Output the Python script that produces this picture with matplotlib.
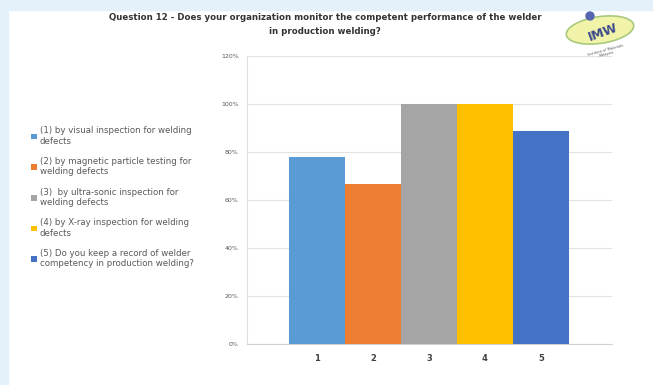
import matplotlib.pyplot as plt
from matplotlib.patches import Ellipse, Rectangle
from matplotlib.ticker import PercentFormatter

categories = ['1', '2', '3', '4', '5']
shares = [0.778, 0.667, 1.0, 1.0, 0.889]
labels = ['(1) by visual inspection for welding\ndefects',
          '(2) by magnetic particle testing for\nwelding defects',
          '(3)  by ultra-sonic inspection for\nwelding defects',
          '(4) by X-ray inspection for welding\ndefects',
          '(5) Do you keep a record of welder\ncompetency in production welding?']
colors = ['#5B9BD5', '#ED7D31', '#A5A5A5', '#FFC000', '#4472C4']

fig = plt.figure(figsize=(6.53, 3.85), dpi=100)
fig.patch.set_facecolor('white')

# pale blue strips along the top and left edges
fig.patches.append(Rectangle((0, 1 - 10/385), 1, 10/385, transform=fig.transFigure,
                             color='#e4f1fb', zorder=0))
fig.patches.append(Rectangle((0, 0), 8/653, 1, transform=fig.transFigure,
                             color='#e4f1fb', zorder=0))

ax = fig.add_axes([247/653, 1 - 344/385, (612 - 247)/653, (344 - 56)/385])
x = list(range(len(categories)))
bars = ax.bar(x, shares, width=1.0, color=colors, zorder=3)
ax.set_xlim(-1.25, 5.27)
ax.set_ylim(0, 1.2)
ax.set_yticks([0, 0.2, 0.4, 0.6, 0.8, 1.0, 1.2])
ax.yaxis.set_major_formatter(PercentFormatter(1.0, decimals=0))
ax.set_xticks(x)
ax.set_xticklabels(categories, fontsize=6, fontweight='bold', color='#404040')
ax.tick_params(axis='y', labelsize=4.5, labelcolor='#595959', length=0, pad=6)
ax.tick_params(axis='x', length=0, pad=7)
ax.grid(axis='y', color='#e3e3e3', linewidth=0.8, zorder=0)
for side in ['top', 'right']:
    ax.spines[side].set_visible(False)
ax.spines['left'].set_color('#e0e0e0')
ax.spines['bottom'].set_color('#d0d0d0')

fig.text(325/653, 1 - 18/385,
         'Question 12 - Does your organization monitor the competent performance of the welder',
         ha='center', va='center', fontsize=6.2, fontweight='bold', color='#333333')
fig.text(325/653, 1 - 32/385, 'in production welding?',
         ha='center', va='center', fontsize=6.2, fontweight='bold', color='#333333')

leg = fig.legend(bars, labels, loc='upper left', bbox_to_anchor=(28/653, 1 - 123/385),
                 frameon=False, fontsize=6.2, labelcolor='#595959',
                 handlelength=0.6, handleheight=0.6, handletextpad=0.35,
                 labelspacing=1.3, borderaxespad=0)

# small institute logo in the top right corner
fig.patches.append(Ellipse((600/653, 1 - 30/385), 70/653, 26/385, angle=20,
                           transform=fig.transFigure, facecolor='#f1f3a8',
                           edgecolor='#a8c97e', linewidth=1.2, zorder=2))
fig.patches.append(Ellipse((590/653, 1 - 16/385), 8/653, 8/385,
                           transform=fig.transFigure, color='#5566b0', zorder=3))
fig.text(603/653, 1 - 32/385, 'IMW', ha='center', va='center', fontsize=9,
         fontweight='bold', color='#3c4a8c', rotation=20, zorder=4)
fig.text(606/653, 1 - 52/385, 'Institute of Materials\nMalaysia', ha='center',
         va='center', fontsize=2.5, color='#555555', rotation=15)

fig.savefig('out.png', dpi=100)
